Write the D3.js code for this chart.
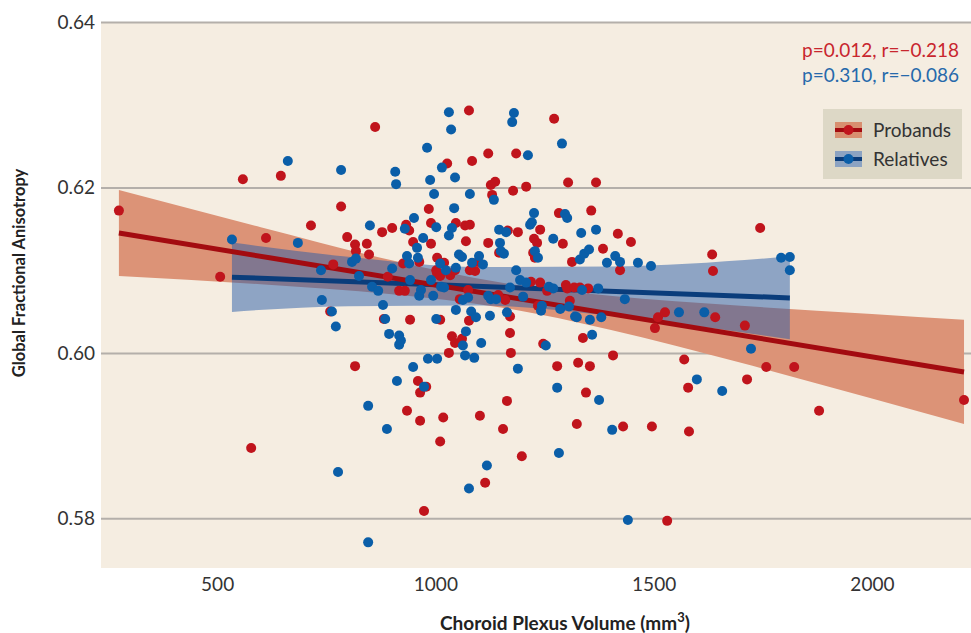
<!DOCTYPE html>
<html>
<head>
<meta charset="utf-8">
<script src="https://cdn.jsdelivr.net/npm/d3@7"></script>
<style>
  body { margin: 0; background: #ffffff; }
  svg text { font-family: Lato, "Open Sans", sans-serif; }
</style>
</head>
<body>
<svg id="chart" width="971" height="633"></svg>
<script>
// Probands (red)
var probandVol = [275,507,559,578,612,646,715,759,766,784,
  798,816,816,818,843,848,862,878,882,891,
  901,917,926,930,933,935,940,942,949,960,
  963,965,974,979,985,990,990,1002,1004,1004,
  1011,1011,1011,1018,1020,1027,1031,1034,1038,1045,
  1045,1047,1056,1061,1068,1070,1075,1077,1077,1079,
  1079,1084,1091,1098,1102,1114,1121,1121,1127,1130,
  1137,1144,1146,1155,1160,1164,1166,1171,1171,1173,
  1178,1185,1189,1198,1208,1219,1224,1226,1228,1233,
  1235,1240,1240,1247,1256,1272,1279,1283,1292,1299,
  1302,1304,1308,1313,1318,1324,1327,1331,1338,1345,
  1350,1354,1357,1368,1384,1407,1418,1423,1430,1448,
  1496,1503,1510,1526,1531,1570,1579,1634,1636,1641,
  1709,1744,1758,1822,1879,2211,1714,965,1581];
var probandFA = [0.6172,0.6092,0.6210,0.5885,0.6139,0.6214,0.6154,0.6050,0.6107,0.6177,
  0.6140,0.5984,0.6131,0.6123,0.6132,0.6119,0.6273,0.6146,0.6041,0.6092,
  0.6151,0.6075,0.6108,0.6075,0.6155,0.5930,0.6148,0.6040,0.6134,0.5966,
  0.6110,0.5952,0.5809,0.5959,0.6174,0.6132,0.6157,0.6100,0.6096,0.6115,
  0.6040,0.6093,0.5893,0.5922,0.6109,0.6229,0.6000,0.6094,0.6020,0.6012,
  0.6100,0.6157,0.6065,0.6017,0.6154,0.6135,0.6076,0.6293,0.6039,0.6155,
  0.6100,0.6232,0.6099,0.6110,0.5924,0.5843,0.6241,0.6133,0.6203,0.6191,
  0.6207,0.6070,0.6121,0.5908,0.6064,0.5942,0.6148,0.6044,0.6024,0.6000,
  0.6196,0.6241,0.6146,0.5875,0.6201,0.6086,0.6121,0.6138,0.6115,0.6133,
  0.6057,0.6085,0.6149,0.6011,0.6075,0.6283,0.5984,0.6169,0.6132,0.6082,
  0.6078,0.6206,0.6063,0.6110,0.6079,0.5914,0.5988,0.6079,0.6018,0.5952,
  0.6078,0.5984,0.6172,0.6206,0.6126,0.5997,0.6144,0.6100,0.5911,0.6134,
  0.5911,0.6030,0.6043,0.6049,0.5797,0.5992,0.5958,0.6119,0.6099,0.6043,
  0.6033,0.6151,0.5983,0.5983,0.5930,0.5943,0.5968,0.5918,0.5905];

// Relatives (blue)
var relativeVol = [534,662,685,738,740,763,772,777,784,809,
  818,825,846,846,850,855,869,880,885,889,
  894,901,908,910,912,917,917,921,930,935,
  940,942,949,951,958,960,963,967,972,974,
  981,983,988,990,995,997,1002,1002,1004,1011,
  1013,1015,1020,1024,1031,1031,1036,1038,1043,1045,
  1047,1047,1054,1061,1063,1063,1068,1070,1075,1077,
  1079,1082,1084,1089,1093,1100,1105,1109,1118,1121,
  1125,1127,1134,1139,1146,1148,1150,1157,1162,1164,
  1171,1176,1180,1185,1189,1194,1201,1208,1212,1217,
  1221,1226,1228,1235,1242,1244,1253,1260,1270,1270,
  1279,1283,1286,1290,1297,1302,1306,1320,1324,1331,
  1334,1336,1341,1352,1354,1359,1368,1373,1375,1380,
  1393,1405,1412,1423,1434,1441,1464,1494,1558,1599,
  1616,1657,1723,1792,1812,1812];
var relativeFA = [0.6137,0.6232,0.6133,0.6100,0.6064,0.6050,0.6032,0.5856,0.6221,0.6110,
  0.6114,0.6093,0.5936,0.5771,0.6154,0.6080,0.6075,0.6058,0.6041,0.5908,
  0.6023,0.6102,0.6219,0.6204,0.5966,0.6010,0.6021,0.6015,0.6150,0.6117,
  0.6108,0.6088,0.5983,0.6163,0.6127,0.6115,0.6069,0.6076,0.6139,0.5959,
  0.6248,0.5993,0.6209,0.6088,0.6069,0.6192,0.6152,0.6041,0.5993,0.6108,
  0.6080,0.6224,0.6079,0.6100,0.6142,0.6291,0.6270,0.6151,0.6175,0.6212,
  0.6052,0.6103,0.6119,0.6116,0.6064,0.6009,0.5997,0.6026,0.6067,0.5836,
  0.6192,0.6050,0.6109,0.5994,0.6043,0.6117,0.6012,0.6107,0.5864,0.6069,
  0.6045,0.6065,0.6185,0.6065,0.6149,0.6133,0.6123,0.6120,0.6146,0.6049,
  0.6079,0.6279,0.6290,0.6100,0.5981,0.6088,0.6068,0.6085,0.6239,0.6155,
  0.6158,0.6169,0.6123,0.6115,0.6051,0.6057,0.6009,0.6080,0.6078,0.6138,
  0.5958,0.5879,0.6053,0.6253,0.6168,0.6163,0.6056,0.6044,0.6043,0.6113,
  0.6145,0.6076,0.6120,0.6125,0.6040,0.6022,0.6149,0.6078,0.5943,0.6043,
  0.6109,0.5907,0.6117,0.6110,0.6065,0.5798,0.6109,0.6105,0.6049,0.5968,
  0.6049,0.5954,0.6005,0.6115,0.6116,0.6100];

// Fit lines and confidence bands
var probandFitVol = [275, 2211];
var probandFitFA = [0.6145, 0.5977];
var probandBandVol = [275, 600, 900, 1150, 1400, 1700, 2000, 2211];
var probandBandHi = [0.6197, 0.6152, 0.6112, 0.6085, 0.6069, 0.6057, 0.6047, 0.6040];
var probandBandLo = [0.6093, 0.6083, 0.6071, 0.6055, 0.6028, 0.5988, 0.5945, 0.5914];

var relativeFitVol = [534, 1812];
var relativeFitFA = [0.60915, 0.60665];
var relativeBandVol = [534, 800, 1100, 1400, 1812];
var relativeBandHi = [0.61334, 0.61161, 0.61038, 0.61045, 0.61166];
var relativeBandLo = [0.60496, 0.60565, 0.60572, 0.60449, 0.60164];

var xTicks = [500, 1000, 1500, 2000];
var yTicks = [0.58, 0.60, 0.62, 0.64];
var statLabels = ["p=0.012, r=\u22120.218", "p=0.310, r=\u22120.086"];
var groupNames = ["Probands", "Relatives"];

var width = 971, height = 633;
const MARGIN = { LEFT: 101, RIGHT: 0, TOP: 22, BOTTOM: 65 };

let svg = d3.select("#chart");

let xScale = d3.scaleLinear()
  .domain([234, 2227])
  .range([MARGIN.LEFT, width - MARGIN.RIGHT]);
let yScale = d3.scaleLinear()
  .domain([0.574, 0.64])
  .range([height - MARGIN.BOTTOM, MARGIN.TOP]);

// plot background
svg.append("rect")
  .attr("x", MARGIN.LEFT)
  .attr("y", MARGIN.TOP)
  .attr("width", width - MARGIN.LEFT - MARGIN.RIGHT)
  .attr("height", height - MARGIN.TOP - MARGIN.BOTTOM)
  .attr("fill", "#f5ede1");

// y axis with gridlines
let yAxis = d3.axisLeft(yScale)
  .tickValues(yTicks)
  .tickFormat(d3.format(".2f"))
  .tickSize(-(width - MARGIN.LEFT - MARGIN.RIGHT))
  .tickPadding(6);
let yG = svg.append("g")
  .attr("transform", `translate(${MARGIN.LEFT},0)`)
  .call(yAxis);
yG.select(".domain").remove();
yG.selectAll(".tick line").attr("stroke", "#b4afaa").attr("stroke-width", 2);
yG.selectAll(".tick text").attr("fill", "#333333").style("font-size", "19px");

// x axis (labels only)
let xAxis = d3.axisBottom(xScale)
  .tickValues(xTicks)
  .tickFormat(d3.format("d"))
  .tickSize(0)
  .tickPadding(10);
let xG = svg.append("g")
  .attr("transform", `translate(0,${height - MARGIN.BOTTOM})`)
  .call(xAxis);
xG.select(".domain").remove();
xG.selectAll(".tick text").attr("fill", "#333333").style("font-size", "19px");

// confidence bands
let probandBand = probandBandVol.map((v, i) => ({ v: v, lo: probandBandLo[i], hi: probandBandHi[i] }));
let relativeBand = relativeBandVol.map((v, i) => ({ v: v, lo: relativeBandLo[i], hi: relativeBandHi[i] }));
let area = d3.area()
  .x(d => xScale(d.v))
  .y0(d => yScale(d.lo))
  .y1(d => yScale(d.hi))
  .curve(d3.curveMonotoneX);

svg.append("path").datum(probandBand)
  .attr("d", area)
  .attr("fill", "#dc9377");
svg.append("path").datum(relativeBand)
  .attr("d", area)
  .attr("fill", "#275ba7")
  .attr("fill-opacity", 0.5);

// fit lines
let line = d3.line().x(d => xScale(d[0])).y(d => yScale(d[1]));
svg.append("path")
  .datum(relativeFitVol.map((v, i) => [v, relativeFitFA[i]]))
  .attr("d", line)
  .attr("stroke", "#0b3d7b")
  .attr("stroke-width", 5)
  .attr("fill", "none");
svg.append("path")
  .datum(probandFitVol.map((v, i) => [v, probandFitFA[i]]))
  .attr("d", line)
  .attr("stroke", "#a30b10")
  .attr("stroke-width", 5)
  .attr("fill", "none");

// points
svg.append("g").selectAll("circle")
  .data(probandVol.map((v, i) => [v, probandFA[i]]))
  .enter().append("circle")
  .attr("cx", d => xScale(d[0]))
  .attr("cy", d => yScale(d[1]))
  .attr("r", 5)
  .attr("fill", "#c0141c");
svg.append("g").selectAll("circle")
  .data(relativeVol.map((v, i) => [v, relativeFA[i]]))
  .enter().append("circle")
  .attr("cx", d => xScale(d[0]))
  .attr("cy", d => yScale(d[1]))
  .attr("r", 5)
  .attr("fill", "#0a5ea8");

// stats text
var statColors = ["#c8262e", "#2669ab"];
statLabels.forEach(function (t, i) {
  svg.append("text")
    .attr("x", 959)
    .attr("y", 57 + i * 25)
    .attr("text-anchor", "end")
    .attr("fill", statColors[i])
    .style("font-size", "19px")
    .text(t);
});

// legend
let legend = svg.append("g").attr("transform", "translate(823,109)");
legend.append("rect")
  .attr("width", 139)
  .attr("height", 70)
  .attr("fill", "#ddd8c6");
var legendBand = ["#d88f70", "#8ca3c2"];
var legendLine = ["#a30b10", "#0b3d7b"];
var legendDot = ["#c0141c", "#0a5ea8"];
groupNames.forEach(function (name, i) {
  let row = legend.append("g").attr("transform", `translate(0,${21 + i * 29})`);
  row.append("rect")
    .attr("x", 12).attr("y", -8)
    .attr("width", 27).attr("height", 16)
    .attr("fill", legendBand[i]);
  row.append("line")
    .attr("x1", 12).attr("x2", 39)
    .attr("stroke", legendLine[i])
    .attr("stroke-width", 4);
  row.append("circle")
    .attr("cx", 25.5).attr("r", 5)
    .attr("fill", legendDot[i]);
  row.append("text")
    .attr("x", 50)
    .attr("dy", "0.35em")
    .attr("fill", "#333333")
    .style("font-size", "19px")
    .text(name);
});

// axis titles
svg.append("text")
  .attr("x", 565)
  .attr("y", 630)
  .attr("text-anchor", "middle")
  .attr("fill", "#222222")
  .style("font-size", "19px")
  .style("font-weight", "bold")
  .text("Choroid Plexus Volume (mm")
  .call(t => {
    t.append("tspan").attr("dy", -8).style("font-size", "13px").text("3");
    t.append("tspan").attr("dy", 8).text(")");
  });

svg.append("text")
  .attr("transform", "translate(25,273) rotate(-90)")
  .attr("text-anchor", "middle")
  .attr("fill", "#222222")
  .style("font-size", "16.5px")
  .style("font-weight", "bold")
  .text("Global Fractional Anisotropy");
</script>
</body>
</html>
